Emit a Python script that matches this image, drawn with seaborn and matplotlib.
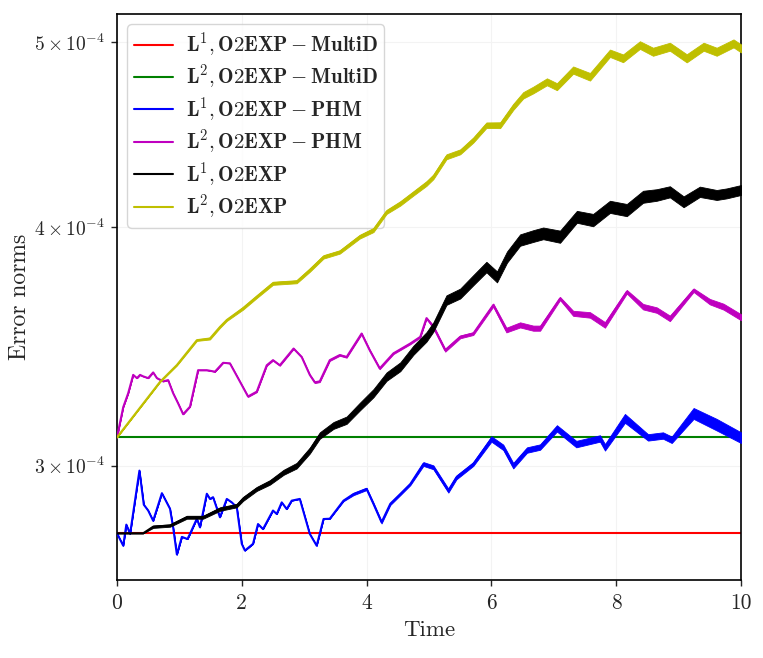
import numpy as np
import matplotlib
matplotlib.use("Agg")
import matplotlib.pyplot as plt
import matplotlib.ticker as mticker
import seaborn as sns

# ---------------- data (values in units of 1e-4) ----------------
SCALE = 1e-4

t_flat = [0.0, 10.0]
l1_multid = [2.765, 2.765]
l2_multid = [3.104, 3.104]

t_l1_phm = [0, 0.10, 0.15, 0.21, 0.36, 0.43, 0.50, 0.58, 0.72, 0.85,
            0.90, 0.96, 1.04, 1.13, 1.17, 1.28, 1.33, 1.44, 1.49, 1.54,
            1.65, 1.76, 1.84, 1.92, 2.00, 2.05, 2.18, 2.26, 2.34, 2.50,
            2.56, 2.64, 2.72, 2.80, 2.93, 3.09, 3.20, 3.31, 3.41, 3.63,
            3.79, 4.00, 4.11, 4.24, 4.38, 4.54, 4.70, 4.91, 5.07, 5.31,
            5.44, 5.71, 6.00, 6.19, 6.35, 6.57, 6.78, 7.05, 7.36, 7.74,
            7.82, 8.14, 8.51, 8.75, 8.89, 9.24, 9.61, 10.0]
l1_phm = [2.765, 2.724, 2.794, 2.763, 2.982, 2.862, 2.842, 2.807, 2.902, 2.848,
          2.785, 2.695, 2.753, 2.746, 2.763, 2.814, 2.785, 2.900, 2.882, 2.888,
          2.819, 2.882, 2.870, 2.853, 2.730, 2.708, 2.730, 2.796, 2.779, 2.842,
          2.830, 2.870, 2.847, 2.876, 2.882, 2.763, 2.724, 2.813, 2.814, 2.876,
          2.899, 2.917, 2.865, 2.802, 2.865, 2.899, 2.934, 3.006, 2.994, 2.911,
          2.958, 3.006, 3.098, 3.067, 3.000, 3.057, 3.068, 3.138, 3.079, 3.100,
          3.067, 3.176, 3.104, 3.111, 3.095, 3.195, 3.152, 3.103]
l1_phm_spread = [0, 0, 0, 0, 0, 0, 0, 0, 0, 0,
                 0, 0, 0, 0, 0, 0, 0, 0, 0, 0,
                 0, 0, 0, 0, 0, 0, 0, 0, 0, 0,
                 0, 0, 0, 0, 0, 0, 0, 0, 0, 0.002,
                 0.004, 0.004, 0.004, 0.004, 0.004, 0.004, 0.004, 0.007, 0.007, 0.007,
                 0.007, 0.007, 0.010, 0.010, 0.010, 0.010, 0.010, 0.012, 0.012, 0.012,
                 0.012, 0.017, 0.012, 0.012, 0.012, 0.021, 0.022, 0.020]

t_l2_phm = [0, 0.10, 0.18, 0.26, 0.32, 0.37, 0.42, 0.50, 0.58, 0.64,
            0.74, 0.82, 0.90, 0.98, 1.06, 1.17, 1.30, 1.44, 1.57, 1.70,
            1.81, 1.94, 2.10, 2.24, 2.40, 2.50, 2.61, 2.83, 2.96, 3.09,
            3.17, 3.25, 3.41, 3.57, 3.68, 3.92, 4.05, 4.21, 4.43, 4.70,
            4.86, 4.96, 5.07, 5.26, 5.50, 5.71, 6.03, 6.24, 6.46, 6.67,
            6.78, 7.10, 7.31, 7.58, 7.82, 8.17, 8.43, 8.65, 8.86, 9.24,
            9.50, 9.72, 10.0]
l2_phm = [3.104, 3.219, 3.274, 3.347, 3.334, 3.347, 3.341, 3.334, 3.357, 3.334,
          3.321, 3.326, 3.274, 3.234, 3.192, 3.221, 3.366, 3.366, 3.360, 3.396,
          3.394, 3.334, 3.261, 3.280, 3.386, 3.407, 3.386, 3.455, 3.420, 3.347,
          3.317, 3.321, 3.407, 3.428, 3.420, 3.518, 3.448, 3.373, 3.435, 3.476,
          3.504, 3.584, 3.547, 3.448, 3.504, 3.518, 3.641, 3.533, 3.555, 3.541,
          3.541, 3.670, 3.605, 3.598, 3.555, 3.700, 3.634, 3.619, 3.583, 3.707,
          3.656, 3.634, 3.588]
l2_phm_spread = [0, 0, 0, 0, 0, 0, 0, 0, 0, 0,
                 0, 0, 0, 0, 0, 0, 0, 0, 0, 0,
                 0, 0, 0.002, 0.002, 0.002, 0.002, 0.002, 0.002, 0.002, 0.002,
                 0.003, 0.003, 0.003, 0.003, 0.003, 0.003, 0.003, 0.003, 0.003, 0.003,
                 0.003, 0.003, 0.006, 0.006, 0.006, 0.006, 0.007, 0.010, 0.011, 0.011,
                 0.011, 0.007, 0.011, 0.012, 0.012, 0.008, 0.012, 0.012, 0.012, 0.008,
                 0.012, 0.013, 0.013]

t_l1 = [0, 0.42, 0.58, 0.85, 1.12, 1.38, 1.65, 1.92, 2.02, 2.24,
        2.45, 2.67, 2.88, 3.09, 3.25, 3.47, 3.68, 3.89, 4.11, 4.32,
        4.54, 4.75, 4.96, 5.07, 5.28, 5.50, 5.71, 5.92, 6.09, 6.25,
        6.46, 6.67, 6.83, 7.10, 7.37, 7.63, 7.90, 8.17, 8.43, 8.65,
        8.86, 9.08, 9.34, 9.61, 9.77, 10.0]
l1 = [2.765, 2.765, 2.787, 2.791, 2.819, 2.819, 2.847, 2.859, 2.882, 2.917,
      2.940, 2.976, 3.000, 3.055, 3.111, 3.149, 3.169, 3.221, 3.274, 3.340,
      3.380, 3.448, 3.504, 3.546, 3.663, 3.692, 3.752, 3.812, 3.767, 3.858,
      3.938, 3.957, 3.970, 3.954, 4.050, 4.034, 4.099, 4.083, 4.149, 4.158,
      4.174, 4.124, 4.174, 4.158, 4.166, 4.183]
l1_spread = [0, 0, 0.004, 0.004, 0.005, 0.005, 0.006, 0.006, 0.007, 0.007,
             0.008, 0.009, 0.010, 0.011, 0.012, 0.013, 0.014, 0.015, 0.016, 0.017,
             0.018, 0.019, 0.020, 0.020, 0.021, 0.022, 0.023, 0.024, 0.025, 0.026,
             0.027, 0.028, 0.028, 0.029, 0.029, 0.030, 0.030, 0.030, 0.030, 0.029,
             0.028, 0.027, 0.026, 0.025, 0.025, 0.025]

t_l2 = [0, 0.69, 0.96, 1.28, 1.49, 1.65, 1.76, 2.02, 2.24, 2.50,
        2.88, 3.09, 3.31, 3.57, 3.89, 4.11, 4.32, 4.54, 4.75, 4.96,
        5.07, 5.28, 5.50, 5.71, 5.92, 6.14, 6.35, 6.51, 6.67, 6.89,
        7.05, 7.31, 7.58, 7.90, 8.11, 8.38, 8.59, 8.86, 9.13, 9.40,
        9.61, 9.88, 10.0]
l2 = [3.104, 3.319, 3.387, 3.490, 3.497, 3.546, 3.576, 3.627, 3.678, 3.738,
      3.745, 3.798, 3.859, 3.882, 3.954, 3.986, 4.074, 4.116, 4.166, 4.216,
      4.250, 4.354, 4.380, 4.443, 4.523, 4.523, 4.624, 4.689, 4.719, 4.766,
      4.738, 4.834, 4.795, 4.933, 4.903, 4.982, 4.942, 4.972, 4.903, 4.972,
      4.942, 4.992, 4.962]
l2_spread = [0, 0.001, 0.002, 0.003, 0.004, 0.004, 0.004, 0.006, 0.006, 0.007,
             0.007, 0.008, 0.008, 0.008, 0.009, 0.010, 0.010, 0.011, 0.011, 0.012,
             0.012, 0.013, 0.013, 0.014, 0.015, 0.016, 0.017, 0.018, 0.019, 0.020,
             0.020, 0.021, 0.022, 0.022, 0.023, 0.023, 0.024, 0.024, 0.024, 0.024,
             0.024, 0.024, 0.024]

labels = [r"$\mathbf{L^1, O2EXP - MultiD}$",
          r"$\mathbf{L^2, O2EXP - MultiD}$",
          r"$\mathbf{L^1, O2EXP - PHM}$",
          r"$\mathbf{L^2, O2EXP - PHM}$",
          r"$\mathbf{L^1, O2EXP}$",
          r"$\mathbf{L^2, O2EXP}$"]
colors = ["r", "g", "b", "m", "k", "y"]

y_ticks = [3.0, 4.0, 5.0]
x_ticks = [0, 2, 4, 6, 8, 10]

# ---------------- style ----------------
sns.set_style("ticks")
plt.rcParams.update({
    "font.family": "serif",
    "font.serif": ["cmr10"],
    "mathtext.fontset": "cm",
    "axes.formatter.use_mathtext": True,
    "axes.unicode_minus": True,
})

fig = plt.figure(figsize=(7.63, 6.58), dpi=100)
ax = fig.add_axes([0.1533, 0.1178, 0.8179, 0.8609])

series = [
    (t_flat, l1_multid, None),
    (t_flat, l2_multid, None),
    (t_l1_phm, l1_phm, l1_phm_spread),
    (t_l2_phm, l2_phm, l2_phm_spread),
    (t_l1, l1, l1_spread),
    (t_l2, l2, l2_spread),
]

for i, ((tt, vv, ss), lab, col) in enumerate(zip(series, labels, colors)):
    tt = np.asarray(tt, float)
    vv = np.asarray(vv, float)
    if ss is not None:
        ss = np.asarray(ss, float)
        ax.fill_between(tt, (vv - ss) * SCALE, (vv + ss) * SCALE,
                        color=col, lw=0.6, edgecolor=col, zorder=2 + i)
    sns.lineplot(x=tt, y=vv * SCALE, color=col, lw=1.5, label=lab,
                 ax=ax, zorder=2 + i)

ax.set_yscale("log")
ax.set_xlim(0, 10)
ax.set_ylim(2.612e-4, 5.172e-4)

ax.yaxis.set_major_locator(mticker.FixedLocator([v * SCALE for v in y_ticks]))
ax.yaxis.set_minor_locator(mticker.NullLocator())
ax.yaxis.set_major_formatter(mticker.FixedFormatter(
    [r"$%d\times10^{-4}$" % int(v) for v in y_ticks]))
ax.set_xticks(x_ticks)
ax.set_xticklabels([str(v) for v in x_ticks])

ax.tick_params(axis="both", length=4.5, width=1.0, direction="out", pad=5)
ax.tick_params(axis="x", labelsize=15.5)
ax.tick_params(axis="y", labelsize=14, pad=4)
ax.set_xlabel("Time", fontsize=16.5, labelpad=5)
ax.set_ylabel("Error norms", fontsize=17, labelpad=2)

for sp in ax.spines.values():
    sp.set_linewidth(1.2)
    sp.set_color("black")

ax.grid(True, color="#f3f3f3", lw=0.8, zorder=0)
ax.set_axisbelow(True)

leg = ax.legend(loc="upper left", fontsize=15, frameon=True, fancybox=True,
                edgecolor="#cccccc", framealpha=0.8, labelspacing=0.2,
                handlelength=1.9, handletextpad=0.6, borderpad=0.3)
for line in leg.get_lines():
    line.set_linewidth(1.5)

fig.savefig("out.png", dpi=100)
